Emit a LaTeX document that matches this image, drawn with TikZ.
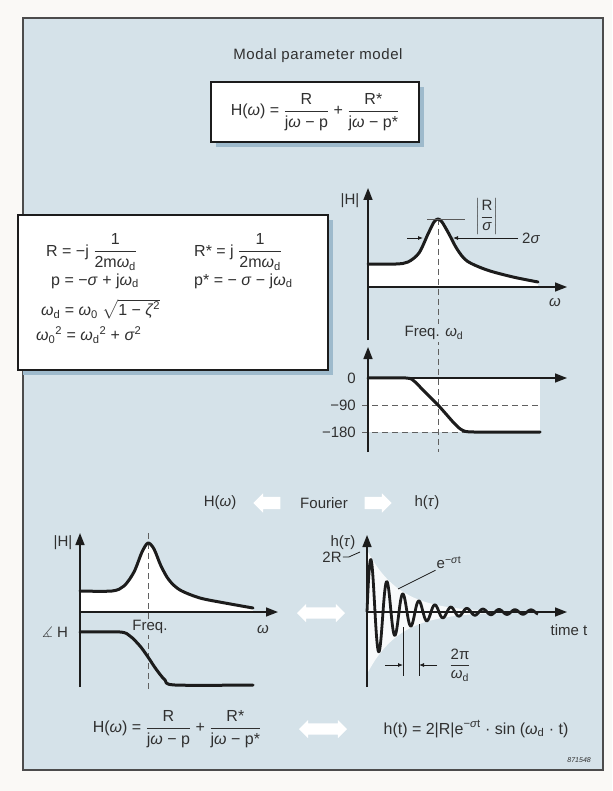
\documentclass[tikz,border=0pt]{standalone}
\usepackage{amsmath}
\usepackage{amssymb}
\usepackage{fontspec}
\setmainfont{Liberation Sans}
\usepackage{tikz}
\usetikzlibrary{arrows.meta, shapes.arrows, shadows}

\definecolor{paper}{RGB}{250,249,246}
\definecolor{panel}{RGB}{213,226,233}
\definecolor{boxshade}{RGB}{158,186,204}
\definecolor{ink}{RGB}{28,28,28}
\definecolor{txt}{RGB}{48,48,48}

\newcommand{\tx}[1]{\text{#1}}
\newcommand{\fr}[2]{\dfrac{\text{#1}}{\text{#2}}}
\newcommand{\om}{\textit{ω}}
\newcommand{\sg}{\textit{σ}}

\begin{document}
\begin{tikzpicture}[x=1pt, y=-1pt,
  every node/.style={text=txt, font=\fontsize{15}{17}\selectfont, inner sep=1pt},
  formula/.style={font=\fontsize{16}{18}\selectfont},
  axis/.style={ink, line width=1.6pt, -{Triangle[length=12pt, width=9pt]}},
  curve/.style={ink, line width=3pt, line join=round, line cap=round},
  guide/.style={gray!75!black, line width=0.9pt, dash pattern=on 6pt off 4pt},
  thinline/.style={ink, line width=0.8pt},
  dimarrow/.style={ink, line width=0.8pt, -{Latex[length=5pt, width=4pt]}},
  whitebox/.style={draw=ink, line width=1.4pt, fill=white,
    drop shadow={shadow xshift=5pt, shadow yshift=-5pt, fill=boxshade, opacity=1}},
  fatarrow/.style={single arrow, fill=white, draw=none, inner xsep=0pt, inner ysep=6pt,
    minimum height=27pt, single arrow head extend=3.5pt},
  twoway/.style={double arrow, fill=white, draw=none, inner xsep=0pt, inner ysep=5.5pt,
    minimum height=48pt, double arrow head extend=3.5pt}
]
\useasboundingbox (0,0) rectangle (612,791);
\fill[paper] (0,0) rectangle (612,791);
\draw[gray!60!black, line width=1.8pt, fill=panel] (23,18) rectangle (603,770);

\node (title) at (318,56) {\addfontfeatures{LetterSpace=4}Modal parameter model};
\node[whitebox, formula, minimum width=208pt, minimum height=60pt] (model) at (315,112)
  {$\tx{H(\om) = }\fr{R}{j\om{} − p}\tx{ + }\fr{R*}{j\om{} − p*}$};

% parameters
\node[whitebox, minimum width=310pt, minimum height=155pt] (params) at (173,292.5) {};
\node[formula, anchor=west] (rres) at (45,252) {$\tx{R = −j }\fr{1}{2m\om\textsubscript{d}}$};
\node[formula, anchor=west] (rconj) at (193,252) {$\tx{R* = j }\fr{1}{2m\om\textsubscript{d}}$};
\node[formula, anchor=west] (pole) at (50,281) {p = −\sg{} + j\om\textsubscript{d}};
\node[formula, anchor=west] (pconj) at (193,281) {p* = − \sg{} − j\om\textsubscript{d}};
\node[formula, anchor=west] (wdamp) at (40,309) {\om\textsubscript{d} = \om\textsubscript{0} $\sqrt{\tx{1 − \textit{ζ}\textsuperscript{2}}}$};
\node[formula, anchor=west] (wnat) at (35,335) {\om\textsubscript{0}\textsuperscript{2} = \om\textsubscript{d}\textsuperscript{2} + \sg\textsuperscript{2}};

% magnitude and phase, top right
\fill[white] (368,287) -- plot[smooth, tension=0.5] coordinates {(368,264) (396,264) (408,262) (419,253) (428,234) (434,222) (438,219) (442,222) (449,234) (457,249) (467,261) (487,270) (513,277) (538,282)} -- (538,287) -- cycle;
\fill[white] (368,378) rectangle (540,432);
\draw[guide] (438,219) -- (438,452);
\draw[guide] (362,405) -- (540,405);
\draw[guide] (362,432) -- (540,432);
\draw[curve] plot[smooth, tension=0.5] coordinates {(368,264) (396,264) (408,262) (419,253) (428,234) (434,222) (438,219) (442,222) (449,234) (457,249) (467,261) (487,270) (513,277) (538,282)};
\draw[curve] plot[smooth, tension=0.5] coordinates {(368,378) (406,378) (414,381) (422,389) (430,397) (438,405) (446,414) (454,423) (462,430) (474,432) (540,432)};
\draw[axis] (368,340) -- (368,188);
\draw[axis] (368,287) -- (567,287);
\draw[axis] (368,452) -- (368,347);
\draw[axis] (368,378) -- (567,378);
\draw[thinline, gray!70!black] (427,219) -- (465,219);
\draw[dimarrow] (407,238) -- (423,238);
\draw[dimarrow] (518,238) -- (453,238);
\node (htop) at (350,201) {|H|};
\node (rsig) at (487,217) {$\left|\fr{R}{\sg}\right|$};
\node[anchor=west] (twosig) at (521,238) {2\sg};
\node (wtop) at (555,303) {\om};
\node[fill=panel, inner sep=2pt] (freqd) at (434,333) {Freq. \om\textsubscript{d}};
\node[anchor=east] (deg0) at (357,378) {0};
\node[anchor=east] (deg90) at (357,405) {−90};
\node[anchor=east] (deg180) at (357,432) {−180};

% Fourier pair
\node (Hw) at (220,503) {H(\om)};
\node[fatarrow, shape border rotate=180] (toleft) at (270,503) {};
\node (fourier) at (324,503) {Fourier};
\node[fatarrow] (toright) at (375,503) {};
\node (htau) at (427,503) {h(\textit{τ})};

% frequency response, bottom left
\fill[white] (80,612) -- plot[smooth, tension=0.5] coordinates {(80,591) (112,591) (124,586) (134,572) (142,552) (148,543) (154,549) (161,566) (169,580) (180,590) (200,598) (225,603) (253,608)} -- (253,612) -- cycle;
\draw[guide] (148,533) -- (148,690);
\draw[curve] plot[smooth, tension=0.5] coordinates {(80,591) (112,591) (124,586) (134,572) (142,552) (148,543) (154,549) (161,566) (169,580) (180,590) (200,598) (225,603) (253,608)};
\draw[curve] plot[smooth, tension=0.5] coordinates {(80,632) (120,632) (130,636) (140,646) (148,657) (156,669) (165,680) (175,685) (253,685)};
\draw[axis] (80,687) -- (80,533);
\draw[axis] (80,612) -- (278,612);
\node (hbl) at (63,543) {|H|};
\node (phase) at (55,632) {$\measuredangle$ H};
\node[fill=panel] (freq) at (150,627) {Freq.};
\node (wbl) at (263,630) {\om};

\node[twoway] (pair1) at (321,613) {};

% impulse response, bottom right
\fill[white, opacity=0.85] plot[domain=367:520, samples=60] (\x, {612-62*exp(-(\x-367)/32)}) -- plot[domain=520:367, samples=60] (\x, {612+62*exp(-(\x-367)/32)}) -- cycle;
\draw[ink, line width=2.8pt, line join=round] plot[domain=367:538, samples=400, smooth] (\x, {612-(58*exp(-(\x-367)/28)+2)*sin(22.5*(\x-367))});
\draw[axis] (367,687) -- (367,535);
\draw[axis] (367,612) -- (567,612);
\node (himp) at (343,543) {h(\textit{τ})};
\node (tworr) at (332,557) {2R};
\coordinate (peak) at (360,552);
\draw[thinline] (tworr.east) -- ++(6,0) -- (peak);
\node (decay) at (449,563) {e\textsuperscript{−\sg t}};
\coordinate (envpt) at (398,589);
\draw[thinline] (envpt) -- (decay.south west);
\draw[thinline] (403,627) -- (403,676);
\draw[thinline] (419,624) -- (419,676);
\draw[dimarrow] (385,665) -- (403,665);
\draw[dimarrow] (437,665) -- (419,665);
\node (period) at (460,665) {$\fr{2π}{\om\textsubscript{d}}$};
\node (time) at (569,630) {time t};

% formulas at the foot
\node[formula] (Hsum) at (177,729) {$\tx{H(\om) = }\fr{R}{j\om{} − p}\tx{ + }\fr{R*}{j\om{} − p*}$};
\node[twoway] (pair2) at (323,729) {};
\node[formula] (hsum) at (476,729) {h(t) = 2|R|e\textsuperscript{−\sg t} · sin (\om\textsubscript{d} · t)};
\node[anchor=east, font=\fontsize{7}{8}\selectfont\itshape] (figno) at (592,760) {871548};
\end{tikzpicture}
\end{document}
